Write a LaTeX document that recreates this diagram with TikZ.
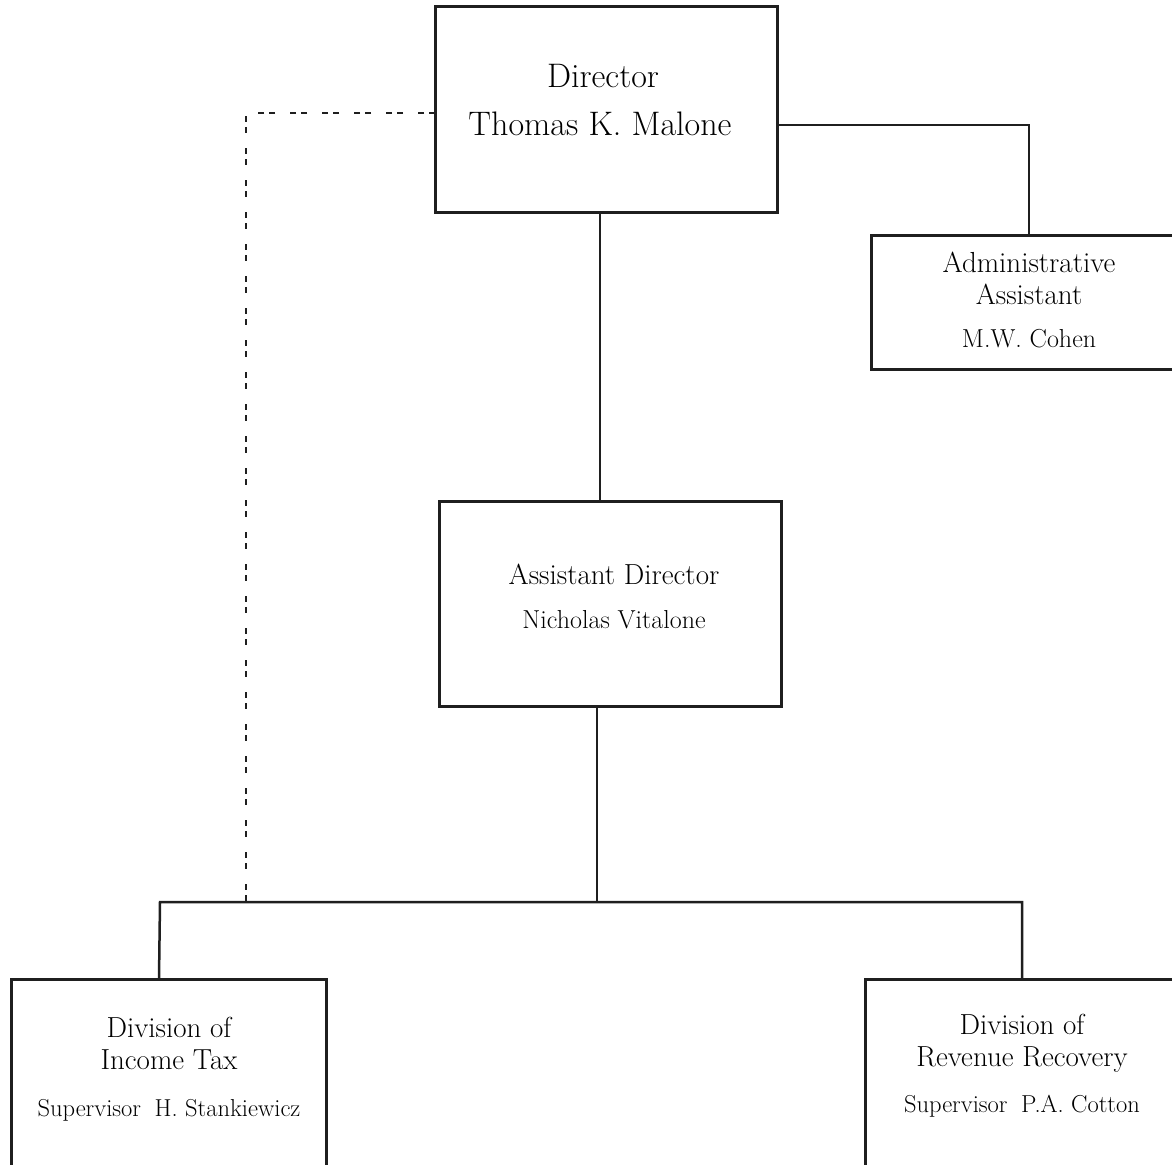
\documentclass[tikz,border=0pt]{standalone}
\begin{document}
\begin{tikzpicture}[x=1pt,y=-1pt,
  box/.style={draw=black!88, line width=3pt, fill=none},
  conn/.style={draw=black!88, line width=2.5pt},
  dashconn/.style={draw=black!88, line width=2.5pt, dash pattern=on 6pt off 5pt on 6pt off 15pt},
  txt/.style={anchor=base, inner sep=0pt, text=black},
  bigt/.style={txt, font=\fontsize{34}{40}\selectfont},
  midt/.style={txt, font=\fontsize{29}{34}\selectfont},
  smlt/.style={txt, font=\fontsize{26}{30}\selectfont},
  supt/.style={txt, font=\fontsize{24.5}{29}\selectfont}]
\useasboundingbox (0,0) rectangle (1172,1164);
\clip (0,0) rectangle (1172,1164);
% boxes
\draw[box] (435,7) rectangle (777,212);
\draw[box] (871,235) rectangle (1185,369);
\draw[box] (439,501) rectangle (781,706);
\draw[box] (11,979) rectangle (326,1185);
\draw[box] (865,979) rectangle (1185,1185);
\coordinate (dirL) at (435,113);
\coordinate (dirR) at (777,125);
\coordinate (dirB) at (600,212);
\coordinate (admT) at (1029,235);
\coordinate (adT) at (600,501);
\coordinate (adB) at (597,706);
\coordinate (busL) at (160,902);
\coordinate (busR) at (1022,902);
\coordinate (busM) at (597,902);
\coordinate (dashB) at (246,902);
\coordinate (incT) at (159,979);
\coordinate (revT) at (1022,979);
% texts
\node[bigt] (t1) at (603,88) {Director};
\node[bigt] (t2) at (600,135) {Thomas K. Malone};
\node[midt] (t3) at (1029,272) {Administrative};
\node[midt] (t4) at (1029,304) {Assistant};
\node[smlt] (t5) at (1029,347) {M.W. Cohen};
\node[midt] (t6) at (614,584) {Assistant Director};
\node[smlt] (t7) at (614,628) {Nicholas Vitalone};
\node[midt] (t8) at (169,1037) {Division of};
\node[midt] (t9) at (169,1069) {Income Tax};
\node[supt] (t10) at (169,1116) {Supervisor\hspace{0.55em}H. Stankiewicz};
\node[midt] (t11) at (1022,1034) {Division of};
\node[midt] (t12) at (1022,1066) {Revenue Recovery};
\node[supt] (t13) at (1022,1112) {Supervisor\hspace{0.55em}P.A. Cotton};
% connectors
\draw[conn] (dirR) -| (admT);
\draw[conn] (dirB) -- (adT);
\draw[conn] (adB) -- (busM);
\draw[conn] (incT) -- (busL) -- (busR) -- (revT);
\draw[dashconn] (dirL) -| (dashB);
\end{tikzpicture}
\end{document}
